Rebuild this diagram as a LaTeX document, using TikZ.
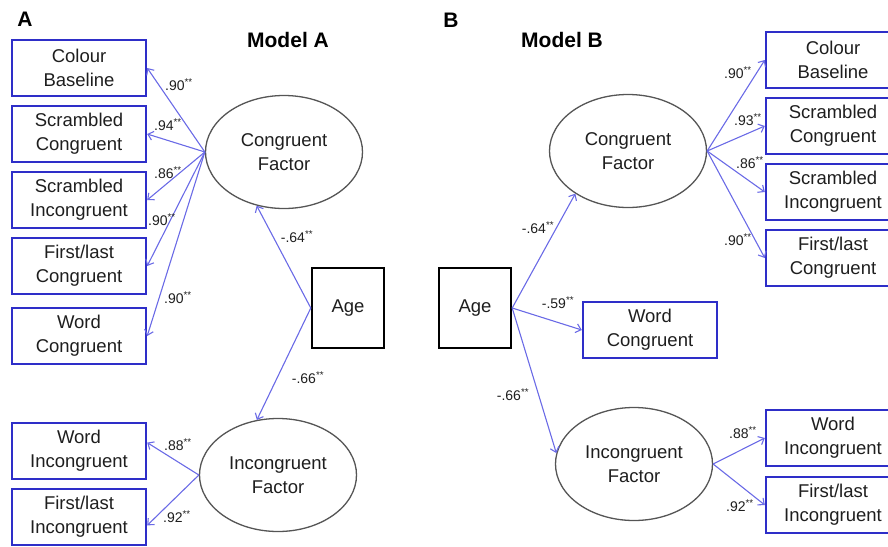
\documentclass[tikz,border=0pt]{standalone}
\usepackage{fontspec}
\setmainfont{Liberation Sans}
\usetikzlibrary{shapes.geometric,arrows.meta}

\definecolor{boxblue}{HTML}{2E2EC8}
\definecolor{arrowblue}{HTML}{6A6AE6}
\definecolor{ringgrey}{HTML}{555555}
\definecolor{inkgrey}{HTML}{1E1E1E}

\tikzset{obs/.style = {draw=boxblue, line width=2.4pt, minimum width=134pt, minimum height=56pt,
                       inner sep=0pt, align=center, text=inkgrey,
                       font=\fontsize{18.5}{24}\selectfont},
         latent/.style = {ellipse, draw=ringgrey, line width=1.3pt, minimum width=157pt,
                          minimum height=113pt, inner sep=0pt, align=center, text=inkgrey,
                          font=\fontsize{18.5}{24}\selectfont},
         agebox/.style = {draw=black, line width=2.4pt, minimum width=72pt, minimum height=80pt,
                          inner sep=0pt, text=inkgrey, font=\fontsize{18.5}{24}\selectfont},
         load/.style = {inner sep=0pt, text=inkgrey, font=\fontsize{14}{16}\selectfont},
         title/.style = {inner sep=0pt, font=\fontsize{21}{24}\selectfont\bfseries},
         arr/.style = {draw=arrowblue, line width=1.1pt, -{Straight Barb[length=5pt,width=9pt]}}
        }

\begin{document}
\begin{tikzpicture}[x=1pt, y=-1pt]
  \useasboundingbox (0, 0) rectangle (888, 546);

  % Model A
  \node[title] (pa) at (25, 19) {A};
  \node[title] (ta) at (288, 40) {Model A};
  \node[obs] (cba) at (79, 68) {Colour\\Baseline};
  \node[obs] (sca) at (79, 134) {Scrambled\\Congruent};
  \node[obs] (sia) at (79, 200) {Scrambled\\Incongruent};
  \node[obs] (fca) at (79, 266) {First/last\\Congruent};
  \node[obs] (wca) at (79, 336) {Word\\Congruent};
  \node[obs] (wia) at (79, 451) {Word\\Incongruent};
  \node[obs] (fia) at (79, 517) {First/last\\Incongruent};
  \node[latent] (conga) at (284, 152) {Congruent\\Factor};
  \node[latent] (inca) at (278, 475) {Incongruent\\Factor};
  \node[agebox] (agea) at (348, 308) {Age};

  \draw[arr] (conga.west) -- (cba.east);
  \draw[arr] (conga.west) -- (sca.east);
  \draw[arr] (conga.west) -- (sia.east);
  \draw[arr] (conga.west) -- (fca.east);
  \draw[arr] (conga.west) -- (wca.east);
  \draw[arr] (inca.west) -- (wia.7);
  \draw[arr] (inca.west) -- (fia.-7);
  \draw[arr] (agea.west) -- (conga.243);
  \draw[arr] (agea.west) -- (inca.111);

  \node[load] (la1) at (179, 85) {.90\textsuperscript{**}};
  \node[load] (la2) at (168, 125) {.94\textsuperscript{**}};
  \node[load] (la3) at (168, 173) {.86\textsuperscript{**}};
  \node[load] (la4) at (162, 220) {.90\textsuperscript{**}};
  \node[load] (la5) at (178, 298) {.90\textsuperscript{**}};
  \node[load] (la6) at (178, 445) {.88\textsuperscript{**}};
  \node[load] (la7) at (177, 517) {.92\textsuperscript{**}};
  \node[load] (la8) at (297, 237) {-.64\textsuperscript{**}};
  \node[load] (la9) at (308, 378) {-.66\textsuperscript{**}};

  % Model B
  \node[title] (pb) at (451, 20) {B};
  \node[title] (tb) at (562, 40) {Model B};
  \node[obs] (cbb) at (833, 60) {Colour\\Baseline};
  \node[obs] (scb) at (833, 126) {Scrambled\\Congruent};
  \node[obs] (sib) at (833, 192) {Scrambled\\Incongruent};
  \node[obs] (fcb) at (833, 258) {First/last\\Congruent};
  \node[obs] (wib) at (833, 438) {Word\\Incongruent};
  \node[obs] (fib) at (833, 505) {First/last\\Incongruent};
  \node[obs] (wcb) at (650, 330) {Word\\Congruent};
  \node[latent] (congb) at (628, 151) {Congruent\\Factor};
  \node[latent] (incb) at (634, 464) {Incongruent\\Factor};
  \node[agebox] (ageb) at (475, 308) {Age};

  \draw[arr] (congb.east) -- (cbb.west);
  \draw[arr] (congb.east) -- (scb.west);
  \draw[arr] (congb.east) -- (sib.west);
  \draw[arr] (congb.east) -- (fcb.west);
  \draw[arr] (incb.east) -- (wib.west);
  \draw[arr] (incb.east) -- (fib.west);
  \draw[arr] (ageb.east) -- (congb.219);
  \draw[arr] (ageb.east) -- (wcb.west);
  \draw[arr] (ageb.east) -- (incb.172);

  \node[load] (lb1) at (738, 73) {.90\textsuperscript{**}};
  \node[load] (lb2) at (748, 120) {.93\textsuperscript{**}};
  \node[load] (lb3) at (750, 163) {.86\textsuperscript{**}};
  \node[load] (lb4) at (738, 240) {.90\textsuperscript{**}};
  \node[load] (lb5) at (743, 433) {.88\textsuperscript{**}};
  \node[load] (lb6) at (740, 506) {.92\textsuperscript{**}};
  \node[load] (lb7) at (538, 228) {-.64\textsuperscript{**}};
  \node[load] (lb8) at (558, 303) {-.59\textsuperscript{**}};
  \node[load] (lb9) at (513, 395) {-.66\textsuperscript{**}};
\end{tikzpicture}
\end{document}
